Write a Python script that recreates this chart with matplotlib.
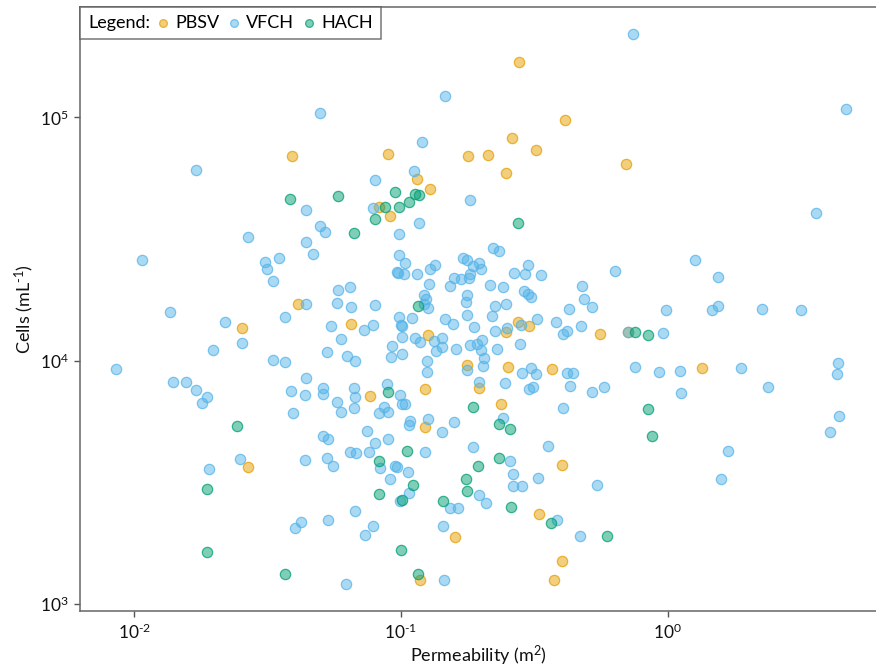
# -*- coding: utf-8 -*-
"""
Cell abundance vs. permeability for the three sample sets (log-log scatter).
Output: out.png
"""
import matplotlib; matplotlib.use('Agg')
import matplotlib.pyplot as plt
from matplotlib.offsetbox import HPacker

plt.rcParams['font.family'] = ['Lato', 'DejaVu Sans']
plt.rcParams['mathtext.fontset'] = 'custom'
plt.rcParams['mathtext.rm'] = 'Lato'
plt.rcParams['mathtext.it'] = 'Lato:italic'
plt.rcParams['mathtext.bf'] = 'Lato:bold'

# ---- data: permeability (m^2) and cells (mL^-1) ----
pbsv_perm = [0.277, 0.412, 0.261, 0.321, 0.0893, 0.178, 0.212, 0.248, 0.115, 0.129,
             0.0824, 0.0389, 0.698, 0.0906, 0.0410, 0.0253, 0.0647, 0.126, 0.177, 0.196,
             0.248, 0.252, 0.275, 0.302, 0.557, 0.368, 0.710, 1.34, 0.123, 0.0763,
             0.237, 0.0266, 0.123, 0.402, 0.159, 0.329, 0.402, 0.118, 0.375]
pbsv_cells = [168000, 97600, 82600, 73700, 71000, 69600, 70300, 59300, 56000, 50900,
              43000, 69600, 64500, 39400, 17150, 13670, 14190, 12790, 9600, 7720,
              13160, 9420, 14470, 13930, 12920, 9250, 13160, 9340, 7650, 7170,
              6640, 3660, 5340, 3730, 1885, 2344, 1502, 1255, 1255]

hach_perm = [0.0382, 0.0579, 0.0947, 0.113, 0.117, 0.107, 0.0868, 0.098, 0.0796, 0.0664,
             0.275, 0.116, 0.0893, 0.186, 0.233, 0.256, 0.105, 0.0824, 0.194, 0.233,
             0.111, 0.175, 0.177, 0.0824, 0.101, 0.144, 0.259, 0.365, 0.592, 0.100,
             0.116, 0.754, 0.844, 0.844, 0.873, 0.0242, 0.0187, 0.0187, 0.0369]
hach_cells = [46300, 47700, 49500, 48600, 48100, 45000, 43000, 42600, 38300, 33600,
              36900, 16830, 7440, 6450, 5500, 5240, 4260, 3870, 3690, 3980,
              3080, 3260, 2910, 2830, 2680, 2650, 2500, 2150, 1900, 1667,
              1328, 13160, 12790, 6330, 4910, 5390, 2970, 1636, 1328]

vfch_perm = [0.741, 4.65, 0.0495, 0.146, 0.120, 0.0171, 0.112, 0.0796, 0.182, 0.0783,
             0.0442, 3.59, 0.117, 0.0495, 0.0521, 0.098, 0.0268, 0.0442, 0.221, 0.233,
             0.0466, 0.098, 0.0348, 0.171, 1.27, 0.0107, 0.177, 0.0308, 0.1035, 0.196,
             0.299, 0.134, 0.186, 0.0314, 0.129, 0.200, 0.635, 0.0963, 0.0972, 0.265,
             0.292, 0.1026, 0.115, 0.182, 0.335, 1.54, 0.158, 0.180, 0.168, 0.0330,
             0.127, 0.216, 0.153, 0.477, 0.0642, 0.241, 0.0579, 0.289, 0.299, 0.122,
             0.177, 0.307, 0.124, 0.485, 0.175, 0.0574, 0.0442, 0.122, 0.248, 0.0796,
             1.54, 0.225, 0.0647, 0.520, 0.126, 0.427, 2.25, 0.986, 1.46, 3.15,
             0.0136, 0.177, 0.219, 0.0369, 0.098, 0.110, 0.324, 0.146, 0.0218, 0.381,
             0.157, 0.0783, 0.100, 0.1009, 0.282, 0.0545, 0.473, 0.188, 0.250, 0.0724,
             0.225, 0.419, 0.710, 0.960, 0.405, 0.101, 0.113, 0.143, 0.0598, 0.201,
             0.133, 0.118, 0.0253, 0.279, 0.193, 0.182, 0.0928, 0.143, 0.161, 0.229,
             0.0197, 0.200, 0.135, 0.0526, 0.101, 0.0629, 0.0915, 0.205, 0.0330, 0.0670,
             0.125, 0.0369, 4.34, 0.203, 0.754, 0.307, 1.88, 0.00851, 0.177, 1.11,
             0.125, 0.928, 0.284, 0.419, 0.441, 4.30, 0.321, 0.0439, 0.0140, 0.0156,
             0.196, 0.246, 0.0885, 0.430, 0.312, 0.577, 2.37, 0.0508, 0.0664, 0.302,
             0.0170, 0.0386, 0.520, 1.12, 0.0435, 0.0508, 0.0988, 0.0188, 0.0675, 0.0180,
             0.0574, 0.101, 0.1035, 0.0860, 0.0664, 0.405, 0.0893, 0.0594, 0.0395, 0.0824,
             4.38, 0.241, 0.126, 0.108, 0.107, 0.158, 0.0743, 0.143, 4.05, 0.0508,
             0.0893, 0.0531, 0.0796, 0.356, 0.186, 1.68, 0.0642, 0.0681, 0.0756, 0.123,
             0.0526, 0.0250, 0.0435, 0.256, 0.0554, 0.0947, 0.097, 0.0832, 0.0190, 0.106,
             0.263, 0.327, 0.0906, 1.58, 0.543, 0.263, 0.284, 0.107, 0.196, 0.0988,
             0.208, 0.153, 0.164, 0.0670, 0.385, 0.0531, 0.0421, 0.0783, 0.144, 0.0399,
             0.0730, 0.469, 0.145, 0.0620]
vfch_cells = [220000, 108300, 104200, 122400, 79500, 61000, 59900, 55500, 45900, 42200,
              41800, 40600, 36900, 35600, 33900, 33300, 32300, 30800, 29100, 28300,
              27500, 27300, 26500, 26300, 26000, 25800, 25800, 25500, 25300, 25300,
              24800, 24800, 24400, 23900, 23900, 23900, 23400, 23200, 23000, 23000,
              22800, 22600, 22600, 22600, 22400, 22100, 21900, 21900, 21700, 21300,
              20700, 20500, 20300, 20300, 20100, 20100, 19600, 19400, 18850, 18700,
              18700, 18300, 18000, 18000, 17500, 17300, 17150, 17150, 17150, 17000,
              16830, 16830, 16670, 16670, 16500, 16360, 16360, 16200, 16200, 16200,
              15900, 15460, 15310, 15160, 15160, 15000, 14880, 14880, 14470, 14470,
              14190, 14060, 14060, 13930, 14060, 13930, 13930, 13800, 13670, 13400,
              13280, 13280, 13160, 13040, 12920, 12550, 12430, 12430, 12310, 12200,
              12080, 11970, 11860, 11750, 11750, 11630, 11520, 11400, 11200, 11200,
              11100, 11100, 10990, 10890, 10690, 10480, 10380, 10280, 10070, 10000,
              10000, 9890, 9790, 9510, 9420, 9340, 9340, 9250, 9160, 9070,
              8990, 8990, 8900, 8900, 8900, 8820, 8820, 8490, 8180, 8180,
              8180, 8100, 8020, 7870, 7800, 7800, 7800, 7720, 7720, 7650,
              7580, 7510, 7440, 7370, 7230, 7300, 7230, 7100, 7100, 6700,
              6770, 6640, 6640, 6450, 6390, 6390, 6160, 6160, 6100, 6100,
              5930, 5810, 5760, 5650, 5440, 5600, 5140, 5090, 5090, 4910,
              4770, 4770, 4590, 4460, 4420, 4260, 4220, 4180, 4220, 4220,
              3980, 3940, 3910, 3870, 3690, 3690, 3660, 3620, 3590, 3490,
              3420, 3300, 3260, 3260, 3080, 3050, 3050, 2860, 2800, 2650,
              2600, 2480, 2480, 2410, 2210, 2210, 2170, 2090, 2090, 2050,
              1920, 1900, 1255, 1208]

groups = ['PBSV', 'VFCH', 'HACH']
COLORS = {'PBSV': (0.902, 0.624, 0.0), 'VFCH': (0.337, 0.706, 0.914), 'HACH': (0.0, 0.620, 0.451)}
DATA = {'PBSV': (pbsv_perm, pbsv_cells), 'VFCH': (vfch_perm, vfch_cells), 'HACH': (hach_perm, hach_cells)}

fig = plt.figure(figsize=(8.76, 6.69), dpi=100)
ax = fig.add_axes([80/876, 58/669, 796/876, 604/669])

handles = []
for g in groups:
    x, y = DATA[g]
    c = COLORS[g]
    h = ax.scatter(x, y, s=55, facecolor=c + (0.5,), edgecolor=c + (0.75,),
                   linewidth=0.9, label=g, zorder=3)
    handles.append(h)

ax.set_xscale('log'); ax.set_yscale('log')
ax.set_xlim(0.00626, 6.04)
ax.set_ylim(936, 284000)

# exponents written with a plain hyphen, as in the printed figure
ax.set_xticks([1e-2, 1e-1, 1e0])
ax.set_xticklabels([r'$\mathregular{10^{\text{-2}}}$', r'$\mathregular{10^{\text{-1}}}$',
                    r'$\mathregular{10^{0}}$'])
ax.set_yticks([1e3, 1e4, 1e5])
ax.set_yticklabels([r'$\mathregular{10^{3}}$', r'$\mathregular{10^{4}}$', r'$\mathregular{10^{5}}$'])
ax.minorticks_off()
ax.tick_params(axis='both', which='major', length=4, width=1, color='#555555',
               labelsize=12.5, labelcolor='#111111', pad=4, direction='out')

for side in ['left', 'bottom', 'top']:
    ax.spines[side].set_color('#666666')
    ax.spines[side].set_linewidth(1.1)
ax.spines['right'].set_visible(False)

ax.set_xlabel(r'Permeability (m$^{2}$)', fontsize=13, color='#111111', labelpad=2)
ax.set_ylabel(r'Cells (mL$^{\text{-1}}$)', fontsize=13, color='#111111', labelpad=3)

# legend with the title inline on the left
leg = ax.legend(handles=handles, labels=groups, title='Legend:', loc='upper left',
                bbox_to_anchor=(0, 1), borderaxespad=0, ncol=3, fontsize=13,
                title_fontsize=13, frameon=True, fancybox=False, markerscale=0.75,
                handlelength=0.65, handletextpad=0.35, columnspacing=0.5, borderpad=0.45)
leg.get_frame().set_edgecolor('#555555')
leg.get_frame().set_linewidth(1.1)
box = leg._legend_box
box._children = [HPacker(children=box._children, align='center', pad=0, sep=5)]
box.set_figure(fig)

fig.savefig('out.png', dpi=100)
plt.close(fig)
